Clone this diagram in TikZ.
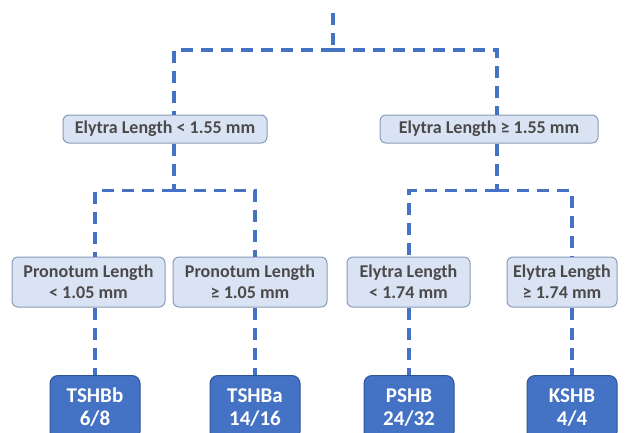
\documentclass[tikz,border=0pt]{standalone}
\usepackage{fontspec}
\setmainfont{Carlito}
\usepackage{tikz}
\usetikzlibrary{positioning}

\definecolor{linkblue}{HTML}{4472C4}
\definecolor{testfill}{HTML}{DAE3F3}
\definecolor{testedge}{HTML}{8A9BB8}
\definecolor{leafedge}{HTML}{2F5597}
\definecolor{testtext}{HTML}{4A4A4A}

\tikzset{
  link/.style={draw=linkblue, line width=3.4pt, dash pattern=on 12pt off 8pt},
  test/.style={draw=testedge, line width=1pt, fill=testfill, rounded corners=6pt, inner sep=0pt,
    text=testtext, font=\fontsize{18}{21}\selectfont\bfseries, align=center},
  leaf/.style={draw=leafedge, line width=1pt, fill=linkblue, rounded corners=8pt, inner sep=0pt,
    minimum width=90pt, minimum height=64pt, text=white, font=\fontsize{21}{23}\selectfont\bfseries,
    align=center, anchor=north},
}

\begin{document}
\begin{tikzpicture}[x=1pt, y=-1pt]
\clip (0,0) rectangle (626,432);
\fill[white] (0,0) rectangle (626,432);
\coordinate (root) at (333,13); \coordinate (j0) at (333,50);
\coordinate (xa) at (174,0); \coordinate (xb) at (497,0);
\coordinate (x1) at (95,0); \coordinate (x2) at (255,0); \coordinate (x3) at (409,0); \coordinate (x4) at (572,0);

% first split
\node[test, minimum width=204pt, minimum height=28pt] (e1) at (165,129) {Elytra Length < 1.55 mm};
\node[test, minimum width=218pt, minimum height=28pt] (e2) at (489,129) {Elytra Length ≥ 1.55 mm};

% second split
\node[test, minimum width=153pt, minimum height=50pt] (p1) at (88.5,282) {Pronotum Length\\< 1.05 mm};
\node[test, minimum width=154pt, minimum height=50pt] (p2) at (250,282) {Pronotum Length\\≥ 1.05 mm};
\node[test, minimum width=123pt, minimum height=50pt] (p3) at (408.5,282) {Elytra Length\\< 1.74 mm};
\node[test, minimum width=110pt, minimum height=50pt] (p4) at (562,282) {Elytra Length\\≥ 1.74 mm};

% species
\node[leaf] (l1) at (x1 |- 0,375) {TSHBb\\6/8};
\node[leaf] (l2) at (x2 |- 0,375) {TSHBa\\14/16};
\node[leaf] (l3) at (x3 |- 0,375) {PSHB\\24/32};
\node[leaf] (l4) at (x4 |- 0,375) {KSHB\\4/4};

\draw[link] (root) -- (j0);
\draw[link] (j0) -| (xa |- e1.north); \draw[link] (j0) -| (xb |- e2.north);
\draw[link] (xa |- e1.south) -- ++(0,47) coordinate (ja);
\draw[link] (ja) -| (x1 |- p1.north); \draw[link] (ja) -| (x2 |- p2.north);
\draw[link] (xb |- e2.south) -- ++(0,47) coordinate (jb);
\draw[link] (jb) -| (x3 |- p3.north); \draw[link] (jb) -| (x4 |- p4.north);
\draw[link] (x1 |- p1.south) -- (l1); \draw[link] (x2 |- p2.south) -- (l2);
\draw[link] (x3 |- p3.south) -- (l3); \draw[link] (x4 |- p4.south) -- (l4);
\end{tikzpicture}
\end{document}
